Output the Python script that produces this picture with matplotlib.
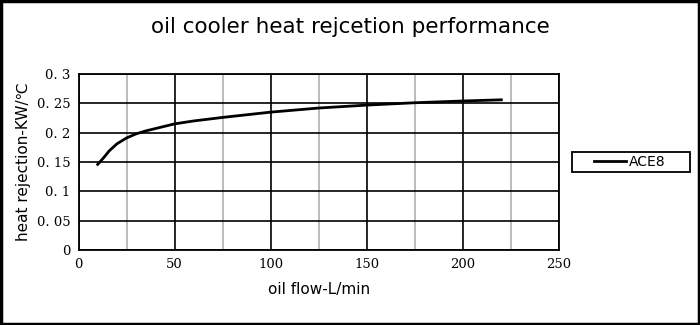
import matplotlib
matplotlib.use("Agg")
import matplotlib.pyplot as plt
from matplotlib.patches import Rectangle
from matplotlib.ticker import MultipleLocator

flow = [10, 13, 16, 20, 25, 30, 35, 40, 50, 60, 75, 100, 125, 150, 175, 200, 220]
heat = [0.146, 0.157, 0.169, 0.181, 0.191, 0.198, 0.203, 0.207, 0.215, 0.220, 0.226, 0.235, 0.242, 0.247, 0.251, 0.254, 0.256]
x_ticks = [0, 50, 100, 150, 200, 250]
y_ticks = [0, 0.05, 0.1, 0.15, 0.2, 0.25, 0.3]
y_labels = ["0", "0. 05", "0. 1", "0. 15", "0. 2", "0. 25", "0. 3"]

fig = plt.figure(figsize=(7, 3.25), dpi=100)
ax = fig.add_axes([78.5/700, 1-250/325, (559-78.5)/700, (250-74)/325])

ax.plot(flow, heat, color="black", lw=2, label="ACE8", solid_joinstyle="round")
ax.set_xlim(0, 250)
ax.set_ylim(0, 0.3)
ax.set_xticks(x_ticks)
ax.set_xticklabels([str(v) for v in x_ticks], family="DejaVu Serif", fontsize=9.5)
ax.set_yticks(y_ticks)
ax.set_yticklabels(y_labels, family="DejaVu Serif", fontsize=9.5)
ax.xaxis.set_minor_locator(MultipleLocator(25))
ax.grid(which="minor", axis="x", color="#b0b0b0", lw=1.2)
ax.grid(which="major", axis="both", color="black", lw=1.2)
ax.set_axisbelow(True)
ax.tick_params(length=0, which="both", pad=6)
for s in ax.spines.values():
    s.set_linewidth(1.3)

ax.set_xlabel("oil flow-L/min", fontsize=11, labelpad=8)
ax.set_ylabel("heat rejection-KW/\u2103", fontsize=11, family=["DejaVu Sans", "Noto Sans CJK SC"])
fig.text(0.5, 1-27/325, "oil cooler heat rejcetion performance", ha="center", va="center", fontsize=15.5)

leg = fig.legend(loc="center", bbox_to_anchor=(629.5/700, 1-162/325), frameon=False,
                 fontsize=10, handlelength=2.3, borderpad=0, borderaxespad=0,
                 handletextpad=0.2)

fig.patches.append(Rectangle((572/700, 1-172/325), 118/700, 20/325, transform=fig.transFigure,
                             fill=False, edgecolor="black", lw=1.3))
fig.patches.append(Rectangle((0.002, 0.003), 0.996, 0.994, transform=fig.transFigure,
                             fill=False, edgecolor="black", lw=2.5))
fig.savefig("out.png", dpi=100)
